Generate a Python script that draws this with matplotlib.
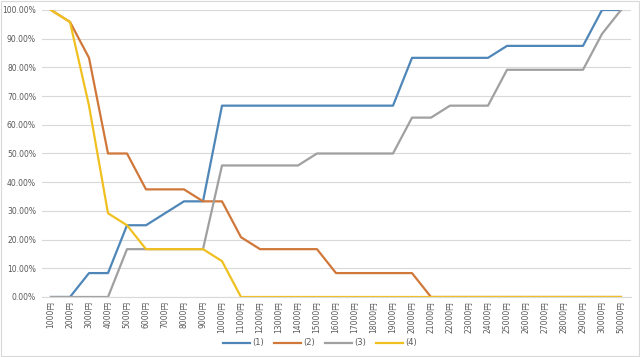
import matplotlib.pyplot as plt
from matplotlib.ticker import PercentFormatter, MultipleLocator
from matplotlib.patches import Rectangle

# x categories (price)
prices = [f"{p}円" for p in range(1000, 31000, 1000)] + ["50000円"]

s1 = [0, 0, 8.33, 8.33, 25, 25, 29.17, 33.33, 33.33, 66.67,
      66.67, 66.67, 66.67, 66.67, 66.67, 66.67, 66.67, 66.67, 66.67, 83.33,
      83.33, 83.33, 83.33, 83.33, 87.5, 87.5, 87.5, 87.5, 87.5, 100, 100]
s2 = [100, 95.83, 83.33, 50, 50, 37.5, 37.5, 37.5, 33.33, 33.33,
      20.83, 16.67, 16.67, 16.67, 16.67, 8.33, 8.33, 8.33, 8.33, 8.33,
      0, 0, 0, 0, 0, 0, 0, 0, 0, 0, 0]
s3 = [0, 0, 0, 0, 16.67, 16.67, 16.67, 16.67, 16.67, 45.83,
      45.83, 45.83, 45.83, 45.83, 50, 50, 50, 50, 50, 62.5,
      62.5, 66.67, 66.67, 66.67, 79.17, 79.17, 79.17, 79.17, 79.17, 91.67, 100]
s4 = [100, 95.83, 66.67, 29.17, 25, 16.67, 16.67, 16.67, 16.67, 12.5,
      0, 0, 0, 0, 0, 0, 0, 0, 0, 0,
      0, 0, 0, 0, 0, 0, 0, 0, 0, 0, 0]

series_names = ["(1)", "(2)", "(3)", "(4)"]
colors = ["#4F86B8", "#D0773A", "#A0A0A0", "#F0C020"]

plt.rcParams['font.family'] = ['DejaVu Sans', 'Noto Sans CJK JP']

fig = plt.figure(figsize=(6.4, 3.57), dpi=100)
ax = fig.add_axes([41.5 / 640, 60 / 357, 589 / 640, 287 / 357])

x = list(range(len(prices)))
for vals, name, c in zip([s1, s2, s3, s4], series_names, colors):
    ax.plot(x, [v / 100 for v in vals], color=c, lw=1.6, label=name,
            solid_joinstyle='round')

ax.set_xlim(-0.5, len(prices) - 0.5)
ax.set_ylim(0, 1.0)
ax.yaxis.set_major_locator(MultipleLocator(0.1))
ax.yaxis.set_major_formatter(PercentFormatter(1.0, decimals=2))
ax.grid(axis='y', color='#d9d9d9', lw=0.8)
ax.set_axisbelow(True)
for side in ['top', 'right', 'left']:
    ax.spines[side].set_visible(False)
ax.spines['bottom'].set_color('#d9d9d9')
ax.set_xticks(x)
ax.set_xticklabels(prices, rotation=90, fontsize=5.5, color='#595959')
ax.tick_params(axis='y', labelsize=5.5, labelcolor='#595959', length=0, pad=4)
ax.tick_params(axis='x', length=0, pad=3)

fig.legend(loc='center', bbox_to_anchor=(0.5, 14 / 357), ncol=4, frameon=False,
           fontsize=6, handlelength=3.2, handletextpad=0.3, columnspacing=1.2,
           labelcolor='#595959')

fig.patches.append(Rectangle((0.001, 0.002), 0.997, 0.995, transform=fig.transFigure,
                             fill=False, edgecolor='#d9d9d9', lw=0.8))

fig.savefig('out.png', dpi=100)
